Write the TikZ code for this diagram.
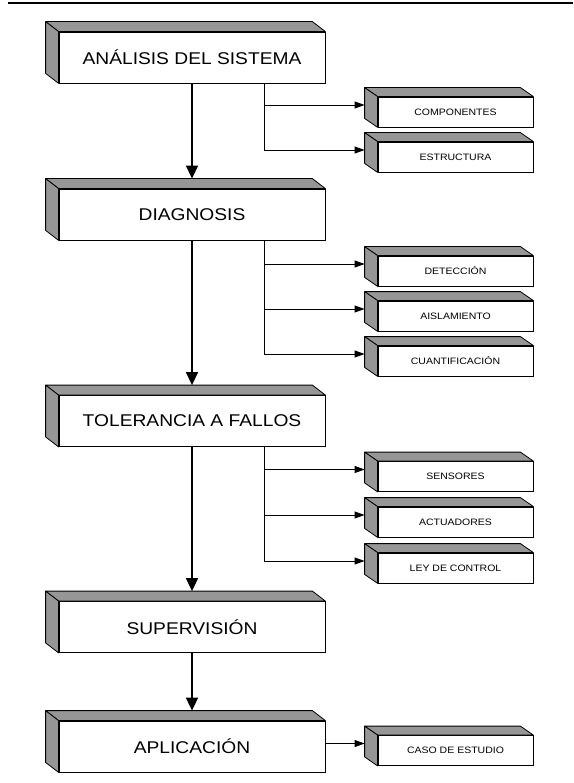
\documentclass[tikz,border=0pt]{standalone}
\usepackage{fontspec}
\newfontfamily\arial[FakeStretch=1.13]{Liberation Sans}
\usetikzlibrary{arrows.meta}
\definecolor{cara}{RGB}{150,150,150}
\tikzset{
  principal/.style={draw, fill=white, line width=0.8pt, minimum width=266pt, minimum height=51pt, inner sep=0pt,
    font=\arial\fontsize{17}{20}\selectfont},
  secundaria/.style={draw, fill=white, line width=0.8pt, minimum width=155pt, minimum height=30pt, inner sep=0pt,
    font=\arial\fontsize{9.3}{11}\selectfont},
  volumen/.style={draw, fill=cara, line width=0.8pt, line join=round},
  flecha/.style={line width=1.6pt, -{Triangle[length=13pt,width=12pt]}},
  rama/.style={line width=0.8pt, -{Triangle[length=10pt,width=7pt]}},
}
\begin{document}
\begin{tikzpicture}[x=1pt, y=-1pt]
        \useasboundingbox (0,0) rectangle (573,783);
        % Linea superior
        \draw[line width=2.5pt] (8,3) -- (573,3);

        % Cajas principales
        \node[principal] (analisis) at (192,57.5) {ANÁLISIS DEL SISTEMA};
        \node[principal] (diagnosis) at (192,214.5) {DIAGNOSIS};
        \node[principal] (tolerancia) at (192,421) {TOLERANCIA A FALLOS};
        \node[principal] (supervision) at (192,627) {SUPERVISIÓN};
        \node[principal] (aplicacion) at (192,746.5) {APLICACIÓN};

        % Cajas secundarias
        \node[secundaria] (componentes) at (455.5,112) {COMPONENTES};
        \node[secundaria] (estructura) at (455.5,157) {ESTRUCTURA};
        \node[secundaria] (deteccion) at (455.5,271) {DETECCIÓN};
        \node[secundaria] (aislamiento) at (455.5,316) {AISLAMIENTO};
        \node[secundaria] (cuantificacion) at (455.5,361) {CUANTIFICACIÓN};
        \node[secundaria] (sensores) at (455.5,476.5) {SENSORES};
        \node[secundaria] (actuadores) at (455.5,522) {ACTUADORES};
        \node[secundaria] (leycontrol) at (455.5,568) {LEY DE CONTROL};
        \node[secundaria] (caso) at (455.5,750.5) {CASO DE ESTUDIO};

        % Caras grises (efecto 3D)
        \foreach \n in {analisis,diagnosis,tolerancia,supervision,aplicacion}{
          \draw[volumen] (\n.north west) -- ++(-13,-10) -- ([shift={(-13,-10)}]\n.north east) -- (\n.north east) -- cycle;
          \draw[volumen] (\n.north west) -- ++(-13,-10) -- ([shift={(-13,-10)}]\n.south west) -- (\n.south west) -- cycle;
        }
        \foreach \n in {componentes,estructura,deteccion,aislamiento,cuantificacion,sensores,actuadores,leycontrol,caso}{
          \draw[volumen] (\n.north west) -- ++(-13,-9) -- ([shift={(-13,-9)}]\n.north east) -- (\n.north east) -- cycle;
          \draw[volumen] (\n.north west) -- ++(-13,-9) -- ([shift={(-13,-9)}]\n.south west) -- (\n.south west) -- cycle;
          \coordinate (\n-in) at ([shift={(-13,-7)}]\n.west);
        }

        % Flechas principales
        \draw[flecha] (analisis.south) -- ([yshift=10pt]diagnosis.north);
        \draw[flecha] (diagnosis.south) -- ([yshift=10pt]tolerancia.north);
        \draw[flecha] (tolerancia.south) -- ([yshift=10pt]supervision.north);
        \draw[flecha] (supervision.south) -- ([yshift=10pt]aplicacion.north);

        % Ramas laterales
        \coordinate (ramaA) at ([xshift=72pt]analisis.south);
        \coordinate (ramaD) at ([xshift=72pt]diagnosis.south);
        \coordinate (ramaT) at ([xshift=72pt]tolerancia.south);
        \foreach \t in {componentes,estructura}
          \draw[rama] (ramaA) |- (\t-in);
        \foreach \t in {deteccion,aislamiento,cuantificacion}
          \draw[rama] (ramaD) |- (\t-in);
        \foreach \t in {sensores,actuadores,leycontrol}
          \draw[rama] (ramaT) |- (\t-in);
        \draw[rama] (aplicacion.east |- caso-in) -- (caso-in);
    \end{tikzpicture}
\end{document}
